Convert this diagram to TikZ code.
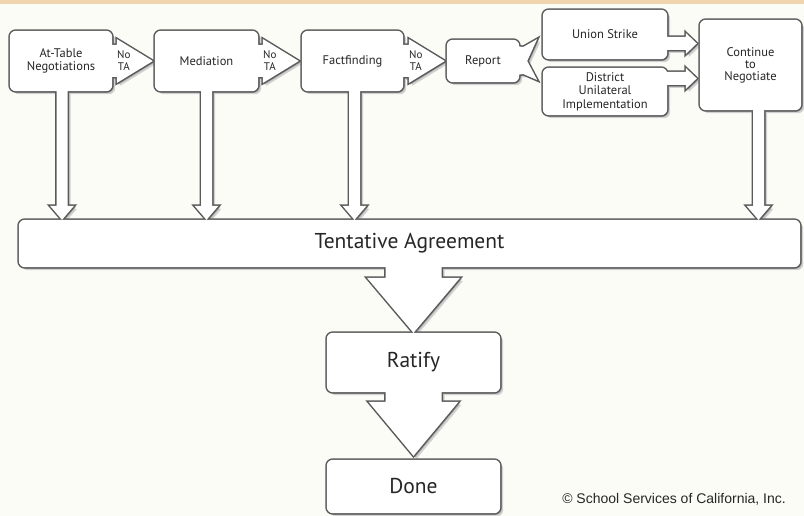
\documentclass[tikz,border=0pt]{standalone}
\usepackage{fontspec}
\setmainfont{PT Sans}
\newfontfamily\copyfont{Liberation Sans}
\usetikzlibrary{calc}
\definecolor{bgc}{HTML}{FCFCF7}
\definecolor{bandc}{HTML}{F0D5AE}
\definecolor{edgec}{HTML}{5A5A5A}
\definecolor{txtc}{HTML}{262626}
\pgfdeclarelayer{bgl}\pgfdeclarelayer{shl}\pgfdeclarelayer{stl}\pgfdeclarelayer{fil}
\pgfsetlayers{bgl,shl,stl,fil,main}
% horizontal block arrow: start, tip, stem half, head half, head length
\newcommand\HArrow[5]{($(#1)+(-3,-#3)$) -- ($(#2)+(-#5,-#3)$) -- ($(#2)+(-#5,-#4)$) -- (#2) -- ($(#2)+(-#5,#4)$) -- ($(#2)+(-#5,#3)$) -- ($(#1)+(-3,#3)$) -- cycle}
% vertical block arrow (downwards)
\newcommand\VArrow[5]{($(#1)+(-#3,-3)$) -- ($(#2)+(-#3,-#5)$) -- ($(#2)+(-#4,-#5)$) -- (#2) -- ($(#2)+(#4,-#5)$) -- ($(#2)+(#3,-#5)$) -- ($(#1)+(#3,-3)$) -- cycle}
\newcommand\allshapes[1]{%
  \foreach \n in {atn,med,ff,rep,us,dui,cont,ta,rat,done}{\path[#1,rounded corners=6pt] (\n.north west) rectangle (\n.south east);}
  \path[#1] \HArrow{atn.east}{t1}{16}{22}{36};
  \path[#1] \HArrow{med.east}{t2}{16}{22}{36};
  \path[#1] \HArrow{ff.east}{t3}{16}{22}{36};
  \path[#1] \HArrow{s5}{t5}{6.5}{10.5}{11};
  \path[#1] \HArrow{s6}{t6}{6.5}{10.5}{11};
  \path[#1] \VArrow{s7}{t7}{5.5}{12}{14};
  \path[#1] \VArrow{s8}{t8}{5.5}{12}{14};
  \path[#1] \VArrow{s9}{t9}{5.5}{12}{14};
  \path[#1] \VArrow{s10}{t10}{5.5}{12}{14};
  \path[#1] \VArrow{s11}{t11}{28}{46.5}{55};
  \path[#1] \VArrow{s12}{t12}{28}{45}{54};
  \path[#1] ($(rep.east)+(-3,-15)$) -- ($(rep.east)+(4,-14)$) -- ($(rep.east)+(18,-22)$) -- ($(rep.east)+(8,0)$) -- ($(rep.east)+(18,19)$) -- ($(rep.east)+(4,13)$) -- ($(rep.east)+(-3,14)$) -- cycle;
}
\tikzset{
  box/.style={inner sep=0pt, font=\fontsize{12.5}{13.5}\selectfont, text=txtc, align=center},
  bigbox/.style={inner sep=0pt, font=\fontsize{21.5}{24}\selectfont, text=txtc, align=center},
  notatext/.style={inner sep=0pt, font=\fontsize{11}{12}\selectfont, text=txtc, align=center},
}
\begin{document}
\begin{tikzpicture}[x=1pt,y=-1pt]
\useasboundingbox (0,0) rectangle (804,516);
\begin{pgfonlayer}{bgl}
  \fill[bgc] (0,0) rectangle (804,516);
  \fill[bandc] (0,0) rectangle (804,4);
\end{pgfonlayer}
% boxes
\node[box, minimum width=102pt, minimum height=60pt] (atn) at (61,61) {At-Table\\Negotiations};
\node[box, minimum width=103pt, minimum height=60pt] (med) at (206.5,61) {Mediation};
\node[box, minimum width=101pt, minimum height=60pt] (ff) at (352.5,61) {Factfinding};
\node[box, minimum width=72pt, minimum height=42pt] (rep) at (483,61) {Report};
\node[box, minimum width=124pt, minimum height=49pt] (us) at (605,34.5) {Union Strike};
\node[box, minimum width=124pt, minimum height=47pt] (dui) at (605,91.5) {District\\Unilateral\\Implementation};
\node[box, minimum width=101pt, minimum height=90pt, font=\fontsize{12.5}{12}\selectfont] (cont) at (750.5,65) {Continue\\to\\Negotiate};
\node[bigbox, minimum width=781pt, minimum height=47pt] (ta) at (409.5,243.5) {Tentative Agreement};
\node[bigbox, minimum width=173pt, minimum height=59pt] (rat) at (413.5,362.5) {Ratify};
\node[bigbox, minimum width=173pt, minimum height=53pt] (done) at (413.5,486.5) {Done};
% connector end points
\coordinate (t1) at ($(med.west)+(-2,0)$);
\coordinate (t2) at ($(ff.west)+(-3,0)$);
\coordinate (t3) at ($(rep.west)+(-2,0)$);
\coordinate (s5) at ($(us.east)+(0,9)$);
\coordinate (t5) at ($(cont.west)+(-3,-21.5)$);
\coordinate (s6) at ($(dui.east)+(0,-13)$);
\coordinate (t6) at ($(cont.west)+(-3,13.5)$);
\coordinate (s7) at ($(atn.south)+(1,0)$);
\coordinate (t7) at (s7 |- ta.north);
\coordinate (s8) at (med.south);
\coordinate (t8) at (s8 |- ta.north);
\coordinate (s9) at ($(ff.south)+(2,0)$);
\coordinate (t9) at (s9 |- ta.north);
\coordinate (s10) at ($(cont.south)+(8,0)$);
\coordinate (t10) at (s10 |- ta.north);
\coordinate (s11) at ($(ta.south)+(4,0)$);
\coordinate (t11) at (s11 |- rat.north);
\coordinate (s12) at (rat.south);
\coordinate (t12) at ($(done.north)+(0,-4)$);
% arrow labels
\node[notatext] (n1) at ($(t1)+(-29,0)$) {No\\TA};
\node[notatext] (n2) at ($(t2)+(-29,0)$) {No\\TA};
\node[notatext] (n3) at ($(t3)+(-29,0)$) {No\\TA};
\node[anchor=east, inner sep=0pt, font=\copyfont\fontsize{14}{16}\selectfont, text=txtc] (cr) at (786,499) {© School Services of California, Inc.};
% layered drawing
\begin{pgfonlayer}{shl}
  \begin{scope}[transform canvas={shift={(3pt,-3pt)}}]
    \allshapes{fill=black!18}
  \end{scope}
  \begin{scope}[transform canvas={shift={(1.6pt,-1.6pt)}}]
    \allshapes{fill=black!35}
  \end{scope}
\end{pgfonlayer}
\begin{pgfonlayer}{stl}
  \allshapes{draw=edgec, line width=3pt, line join=miter}
\end{pgfonlayer}
\begin{pgfonlayer}{fil}
  \allshapes{fill=white}
\end{pgfonlayer}
\end{tikzpicture}
\end{document}
